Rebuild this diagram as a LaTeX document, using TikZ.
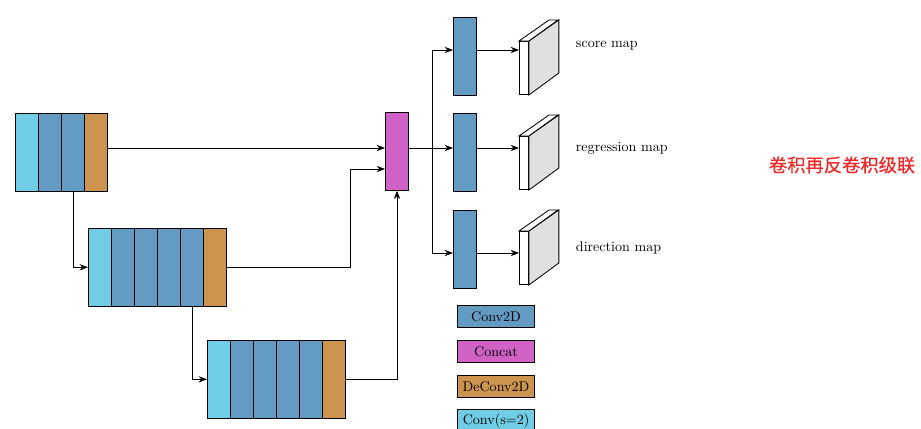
\documentclass[tikz,border=0pt]{standalone}
\usepackage{fontspec}
\usepackage{tikz}
\usetikzlibrary{arrows.meta,calc}
\newfontfamily\cjk[RawFeature={embolden=0.5}]{Noto Sans CJK SC}
\definecolor{convblue}{RGB}{100,155,195}
\definecolor{strideblue}{RGB}{113,205,230}
\definecolor{deconvorange}{RGB}{205,148,80}
\definecolor{concatpink}{RGB}{208,98,198}
\definecolor{mapgrey}{RGB}{224,224,224}
\definecolor{notered}{RGB}{240,40,40}

\begin{document}
\begin{tikzpicture}[x=0.025cm,y=-0.025cm,
        cell/.style={draw,line width=0.7pt,anchor=north west,inner sep=0pt,
            minimum width=0.575cm,minimum height=1.94cm},
        conv/.style={cell,fill=convblue},
        sconv/.style={cell,fill=strideblue},
        deconv/.style={cell,fill=deconvorange},
        catbox/.style={cell,fill=concatpink},
        mapface/.style={draw,line width=0.6pt,fill=white,anchor=north west,inner sep=0pt,
            minimum width=0.225cm,minimum height=1.33cm},
        keybox/.style={draw,line width=0.7pt,anchor=north west,inner sep=0pt,
            minimum width=1.925cm,minimum height=0.55cm},
        arr/.style={-{Stealth[length=6pt,width=4.5pt]},line width=0.6pt}]
        \useasboundingbox (0,0) rectangle (921,428);

        % stage 1
        \node[sconv] (a1) at (15,113) {};
        \foreach \i/\x in {2/38,3/61} \node[conv] (a\i) at (\x,113) {};
        \node[deconv] (a4) at (84,113) {};

        % stage 2
        \node[sconv] (b1) at (88,228) {};
        \foreach \i/\x in {2/111,3/134,4/157,5/180} \node[conv] (b\i) at (\x,228) {};
        \node[deconv] (b6) at (203,228) {};

        % stage 3
        \node[sconv] (c1) at (207,340) {};
        \foreach \i/\x in {2/230,3/253,4/276,5/299} \node[conv] (c\i) at (\x,340) {};
        \node[deconv] (c6) at (322,340) {};

        % concat and heads
        \node[catbox] (cat) at (385,112) {};
        \node[conv] (h1) at (453,17) {};
        \node[conv] (h2) at (453,113) {};
        \node[conv] (h3) at (453,210) {};

        % output maps
        \foreach \i/\y in {1/41,2/136,3/231} {
            \node[mapface] (m\i) at (519,\y) {};
            \draw[line width=0.6pt,fill=mapgrey] (m\i.north east) -- ++(30,-21) -- ++(0,53) -- (m\i.south east) -- cycle;
            \draw[line width=0.6pt,fill=white] (m\i.north west) -- ++(30,-21) -- ++(9,0) -- (m\i.north east) -- cycle;
        }
        \node[anchor=west] (l1) at (571,46) {score map};
        \node[anchor=west] (l2) at (571,148) {regression map};
        \node[anchor=west] (l3) at (571,248) {direction map};

        % connections
        \coordinate (in1) at ($(cat.north west)+(0,36)$);
        \coordinate (in2) at ($(cat.north west)+(0,57)$);
        \draw[arr] (a4.east |- in1) -- (in1);
        \draw[arr] (a3.south) |- (b1.west);
        \draw[arr] (b6.east) -- ++(123,0) |- (in2);
        \draw[arr] (b5.south) |- (c1.west);
        \draw[arr] (c6.east) -| (cat.south);

        \coordinate (br) at ($(cat.east |- in1)+(23,0)$);
        \coordinate (o1) at ($(h1.north west)+(0,33)$);
        \coordinate (o2) at ($(h2.north west)+(0,35)$);
        \coordinate (o3) at ($(h3.north west)+(0,43)$);
        \draw[arr] (cat.east |- in1) -- (o2);
        \draw[arr] (br) |- (o1);
        \draw[arr] (br) |- (o3);
        \foreach \i in {1,2,3}
            \draw[arr] (h\i.east |- o\i) -- (m\i.west |- o\i);

        % legend
        \node[keybox,fill=convblue] (k1) at (457,305) {Conv2D};
        \node[keybox,fill=concatpink] (k2) at (457,340) {Concat};
        \node[keybox,fill=deconvorange] (k3) at (457,375) {DeConv2D};
        \node[keybox,fill=strideblue] (k4) at (457,409) {Conv(s=2)};

        \node[anchor=west,text=notered,font=\cjk\fontsize{13}{15}\selectfont] (note) at (764,165) {卷积再反卷积级联};
    \end{tikzpicture}
\end{document}
